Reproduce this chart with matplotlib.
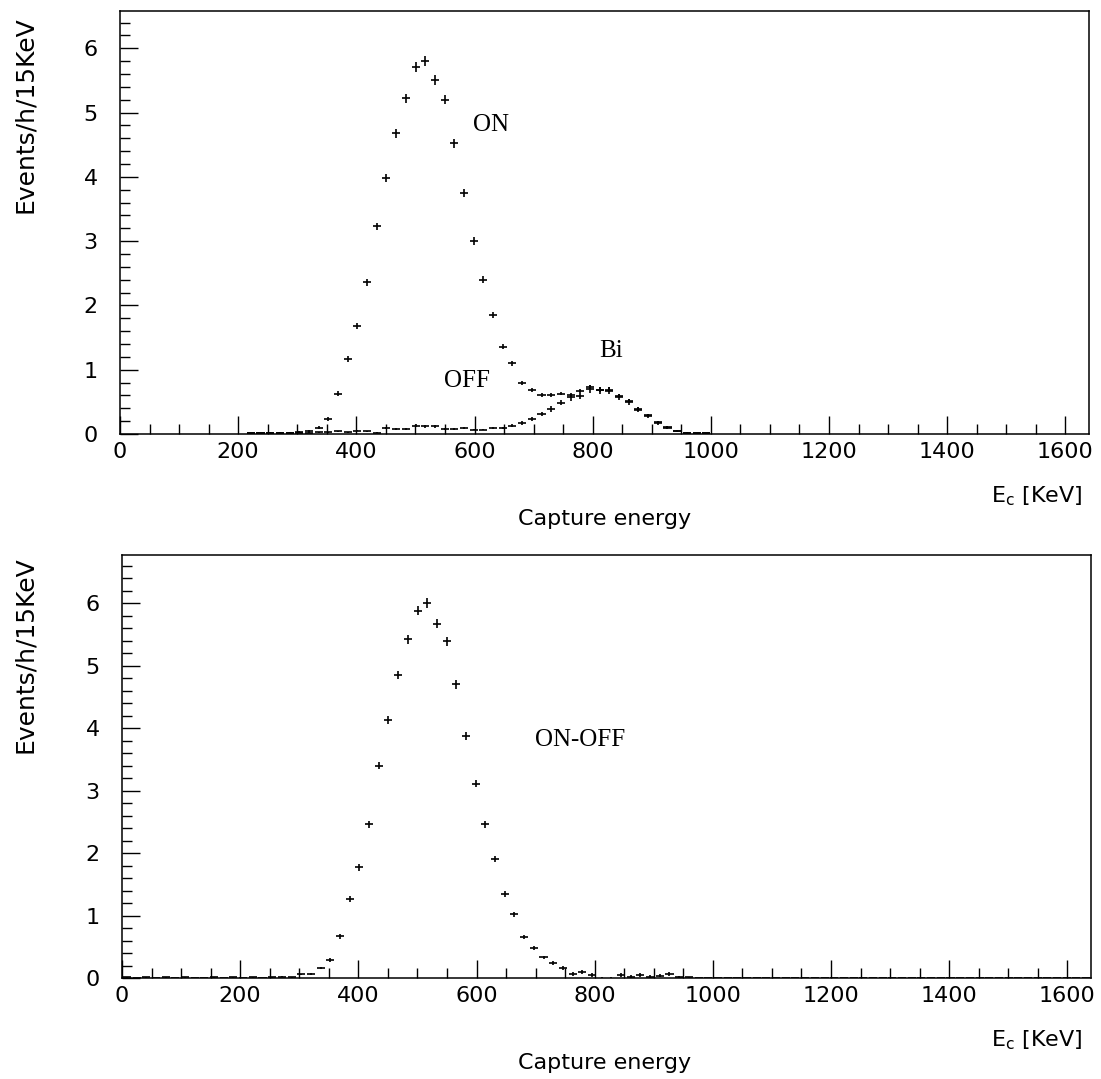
import numpy as np
import matplotlib
matplotlib.use("Agg")
import matplotlib.pyplot as plt
from matplotlib.ticker import MultipleLocator

# 100 bins of 16.4 keV spanning 0-1640 keV
bin_edges = np.linspace(0.0, 1640.0, 101)
energy = 0.5 * (bin_edges[:-1] + bin_edges[1:])

# Reactor ON rate (events/h per bin)
on_rate = (
    [0.0] * 13
    + [0.01, 0.01, 0.02, 0.02, 0.02, 0.03, 0.05,
       0.10, 0.24, 0.63, 1.17, 1.68, 2.36, 3.23, 3.98, 4.68, 5.22,
       5.71, 5.80, 5.51, 5.20, 4.52, 3.75, 3.00, 2.40, 1.85, 1.36,
       1.10, 0.79, 0.68, 0.61, 0.61, 0.63, 0.61, 0.67, 0.73, 0.69,
       0.69, 0.59, 0.51, 0.39, 0.29, 0.18, 0.11, 0.05, 0.02, 0.01,
       0.01]
    + [0.0] * 39
)
on_err = (
    [0.0] * 13
    + [0.005, 0.005, 0.008, 0.008, 0.008, 0.01, 0.015,
       0.02, 0.03, 0.04, 0.045, 0.05, 0.055, 0.06, 0.065, 0.07, 0.07,
       0.075, 0.075, 0.075, 0.07, 0.07, 0.065, 0.06, 0.055, 0.05, 0.045,
       0.04, 0.035, 0.03, 0.03, 0.03, 0.03, 0.03, 0.03, 0.035, 0.035,
       0.035, 0.03, 0.03, 0.025, 0.02, 0.02, 0.015, 0.01, 0.01, 0.005,
       0.005]
    + [0.0] * 39
)

# Reactor OFF rate (events/h per bin), 214Bi peak near 800 keV
off_rate = (
    [0.0] * 13
    + [0.01, 0.01, 0.02, 0.02, 0.02, 0.02, 0.02,
       0.03, 0.03, 0.04, 0.03, 0.05, 0.04, 0.02, 0.09, 0.08, 0.08,
       0.13, 0.12, 0.12, 0.08, 0.08, 0.09, 0.07, 0.07, 0.09, 0.09,
       0.13, 0.17, 0.24, 0.31, 0.39, 0.49, 0.57, 0.59, 0.70, 0.68,
       0.67, 0.58, 0.50, 0.38, 0.28, 0.17, 0.10, 0.05, 0.02, 0.01,
       0.01]
    + [0.0] * 39
)
off_err = (
    [0.0] * 13
    + [0.005, 0.005, 0.005, 0.005, 0.005, 0.005, 0.005,
       0.008, 0.008, 0.01, 0.008, 0.01, 0.01, 0.008, 0.015, 0.015, 0.015,
       0.02, 0.02, 0.02, 0.015, 0.015, 0.015, 0.015, 0.015, 0.015, 0.015,
       0.02, 0.025, 0.03, 0.035, 0.04, 0.045, 0.05, 0.05, 0.055, 0.055,
       0.055, 0.05, 0.045, 0.04, 0.035, 0.03, 0.02, 0.015, 0.01, 0.005,
       0.005]
    + [0.0] * 39
)

# ON - OFF difference
diff_rate = (
    [0.01, 0.0, 0.01, 0.0, 0.01, 0.0, 0.01, 0.0, 0.0, 0.01,
     0.0, 0.01, 0.0, 0.01, 0.0, 0.01, 0.02, 0.01, 0.06, 0.06,
     0.16, 0.29, 0.67, 1.26, 1.77, 2.46, 3.40, 4.13, 4.85, 5.42,
     5.88, 6.00, 5.67, 5.39, 4.70, 3.87, 3.11, 2.46, 1.90, 1.34,
     1.02, 0.66, 0.48, 0.33, 0.24, 0.16, 0.06, 0.10, 0.05, -0.01,
     -0.02, 0.05, 0.02, 0.05, 0.02, 0.04, 0.06, 0.02, 0.01, 0.0]
    + [0.0] * 40
)
diff_err = (
    [0.005] * 18
    + [0.01, 0.015,
       0.02, 0.03, 0.04, 0.045, 0.05, 0.055, 0.06, 0.065, 0.07, 0.07,
       0.075, 0.075, 0.075, 0.07, 0.07, 0.065, 0.06, 0.055, 0.05, 0.045,
       0.04, 0.035, 0.03, 0.03, 0.03, 0.03, 0.03, 0.03, 0.03, 0.03,
       0.03, 0.03, 0.03, 0.03, 0.03, 0.03, 0.03, 0.02, 0.01, 0.005]
    + [0.005] * 40
)

x_ticks = [0, 200, 400, 600, 800, 1000, 1200, 1400, 1600]
y_ticks = [0, 1, 2, 3, 4, 5, 6]

sans = "DejaVu Sans"
serif = "Liberation Serif"
tick_fs = 16
label_fs = 16

fig = plt.figure(figsize=(11.01, 10.79), dpi=100)
W, H = 1101.0, 1079.0


def make_axes(left, right, top, bottom, ymax):
    ax = fig.add_axes([left / W, 1 - bottom / H, (right - left) / W, (bottom - top) / H])
    ax.set_xlim(0, 1640)
    ax.set_ylim(0, ymax)
    ax.set_xticks(x_ticks)
    ax.set_yticks(y_ticks)
    ax.xaxis.set_minor_locator(MultipleLocator(50))
    ax.yaxis.set_minor_locator(MultipleLocator(0.2))
    ax.tick_params(which="both", direction="in", top=False, right=False,
                   width=1.0, color="black")
    ax.tick_params(which="major", length=13)
    ax.tick_params(which="minor", length=7)
    ax.tick_params(axis="x", which="major", pad=6, labelsize=tick_fs)
    ax.tick_params(axis="y", which="major", pad=16, labelsize=tick_fs)
    for lab in ax.get_xticklabels() + ax.get_yticklabels():
        lab.set_family(sans)
    for sp in ax.spines.values():
        sp.set_linewidth(1.1)
    return ax


def draw(ax, values, errors, skip_zero):
    v = np.asarray(values, dtype=float)
    e = np.asarray(errors, dtype=float)
    m = v != 0 if skip_zero else np.ones_like(v, dtype=bool)
    ax.errorbar(energy[m], v[m], xerr=6.8, yerr=e[m], fmt="none",
                ecolor="black", elinewidth=1.2, capsize=0)


def axis_text(ax_bottom_px):
    fig.text(1082 / W, 1 - (ax_bottom_px + 62) / H, r"E$_{\rm c}$ [KeV]",
             ha="right", va="center", fontsize=label_fs, family=sans)
    fig.text(605 / W, 1 - (ax_bottom_px + 85) / H, "Capture energy",
             ha="center", va="center", fontsize=label_fs, family=sans)


def ylabel_text(top_px):
    fig.text(25 / W, 1 - top_px / H, "Events/h/15KeV", rotation=90,
             ha="center", va="top", fontsize=18, family=sans)


# Upper panel: ON and OFF spectra
ax1 = make_axes(120, 1089, 11, 434, 6.58)
draw(ax1, on_rate, on_err, True)
draw(ax1, off_rate, off_err, True)
ax1.text(597, 4.80, "ON", ha="left", va="center", fontsize=18, family=serif)
ax1.text(548, 0.82, "OFF", ha="left", va="center", fontsize=18, family=serif)
ax1.text(811, 1.29, "Bi", ha="left", va="center", fontsize=18, family=serif)
ylabel_text(16)
axis_text(434)

# Lower panel: ON - OFF
ax2 = make_axes(122, 1091, 555, 978, 6.77)
draw(ax2, diff_rate, diff_err, False)
ax2.text(699, 3.81, "ON-OFF", ha="left", va="center", fontsize=18, family=serif)
ylabel_text(556)
axis_text(978)

fig.savefig("out.png", dpi=100)
